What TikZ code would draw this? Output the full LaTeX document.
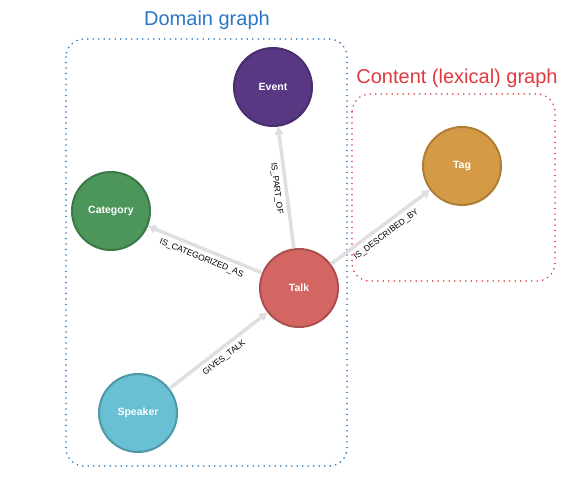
\documentclass[tikz,border=0pt]{standalone}
\usepackage{fontspec}
\setmainfont{Liberation Sans}
\usepackage{tikz}
\usetikzlibrary{arrows.meta, positioning}
\definecolor{Purple}{HTML}{583883}
\definecolor{PurpleD}{HTML}{4A2E6E}
\definecolor{Green}{HTML}{4C965C}
\definecolor{GreenD}{HTML}{3C7848}
\definecolor{Rose}{HTML}{D36562}
\definecolor{RoseD}{HTML}{AA504E}
\definecolor{Amber}{HTML}{D59A46}
\definecolor{AmberD}{HTML}{B07D37}
\definecolor{Teal}{HTML}{68C0D2}
\definecolor{TealD}{HTML}{4E98A8}
\definecolor{Edge}{HTML}{DFDFDF}
\definecolor{Blue}{HTML}{2A76C6}
\definecolor{Red}{HTML}{E0393E}
\tikzset{
  ent/.style={circle, draw, line width=2pt, minimum size=78pt, inner sep=0pt,
              text=white, font=\fontsize{10.5}{12}\selectfont\bfseries},
  rel/.style={-{Triangle[length=8pt,width=9pt]}, line width=3.5pt, color=Edge},
  lbl/.style={sloped, inner sep=1pt, text=black, font=\fontsize{8.5}{10}\selectfont},
  grp/.style={dash pattern=on 0pt off 5.5pt, line cap=round, line width=1.8pt,
              rounded corners=18pt}
}

\begin{document}
\begin{tikzpicture}[x=1pt, y=-1pt]
  \useasboundingbox (0,0) rectangle (568,488);
  % groups
  \draw[grp, Blue] (66,39) rectangle (347,466);
  \draw[grp, Red]  (352,94) rectangle (555,281);
  \node[text=Blue, font=\fontsize{20}{24}\selectfont] (domtitle) at (207,20) {Domain graph};
  \node[text=Red, font=\fontsize{20}{24}\selectfont] (lextitle) at (457,78) {Content (lexical) graph};
  % entities
  \node[ent, fill=Purple, draw=PurpleD] (event)    at (273,87)  {Event};
  \node[ent, fill=Amber,  draw=AmberD]  (tag)      at (462,166) {Tag};
  \node[ent, fill=Green,  draw=GreenD]  (category) at (111,211) {Category};
  \node[ent, fill=Rose,   draw=RoseD]   (talk)     at (299,288) {Talk};
  \node[ent, fill=Teal,   draw=TealD]   (speaker)  at (138,413) {Speaker};
  % relationships
  \draw[rel] (talk) -- node[lbl, below=3pt] {IS\_PART\_OF} (event);
  \draw[rel] (talk) -- node[lbl, below=3pt] {IS\_CATEGORIZED\_AS} (category);
  \draw[rel] (talk) -- node[lbl, below=3pt] {IS\_DESCRIBED\_BY} (tag);
  \draw[rel] (speaker) -- node[lbl, below=3pt] {GIVES\_TALK} (talk);
\end{tikzpicture}
\end{document}
